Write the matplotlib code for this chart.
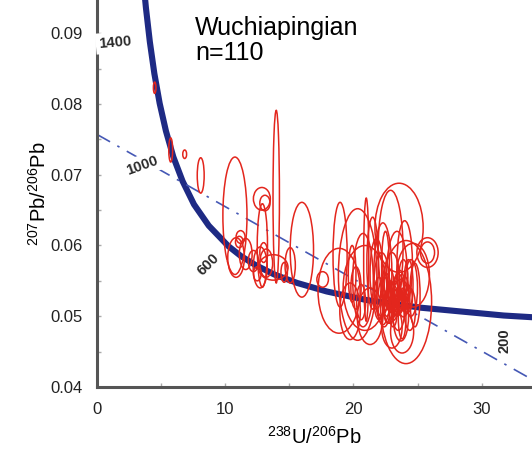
import matplotlib
matplotlib.use("Agg")
import matplotlib.pyplot as plt
from matplotlib.patches import Ellipse

plt.rcParams['font.family'] = ['Liberation Sans', 'DejaVu Sans']
plt.rcParams['mathtext.fontset'] = 'custom'
plt.rcParams['mathtext.rm'] = 'Liberation Sans'
plt.rcParams['mathtext.it'] = 'Liberation Sans:italic'
plt.rcParams['mathtext.bf'] = 'Liberation Sans:bold'

# Concordia curve points (238U/206Pb, 207Pb/206Pb)
conc_x = [3.549, 3.817, 4.122, 4.475, 4.888, 5.375, 5.959, 6.674, 7.568, 8.718,
          10.252, 11.23, 12.40, 13.83, 15.62, 17.92, 20.99, 25.29, 31.73, 36.34]
conc_y = [0.0987, 0.0936, 0.0888, 0.0843, 0.0801, 0.0762, 0.0725, 0.0691, 0.0658, 0.0628,
          0.0599, 0.0585, 0.0572, 0.0559, 0.0547, 0.0535, 0.0523, 0.0512, 0.0501, 0.0496]

# age labels along concordia
age_text = ['1400', '1000', '600', '200']
age_x = [1.45, 3.51, 8.65, 31.8]
age_y = [0.0887, 0.0713, 0.0573, 0.0466]
age_rot = [5, 20, 45, 90]

# reference (dash-dot) line end points
disc_x = [0.0, 33.6]
disc_y = [0.0757, 0.0414]

# error ellipses: centre x, centre y, half-width, half-height
ell_x = [4.50, 5.75, 6.84, 8.09,
         10.76, 12.86, 13.1, 13.98, 15.98, 10.85, 11.2, 11.1, 12.73, 13.75,
         15.07, 12.2, 13.2, 11.6, 14.6, 12.5, 13.0, 12.9,
         17.6, 18.88, 18.96, 20.33, 20.9, 23.56, 22.9, 24.1, 25.78, 25.78,
         21.0, 20.75, 22.3, 19.74, 21.3, 24.65, 24.0, 23.0, 23.8,
         23.0, 23.4, 23.7, 22.8, 23.9, 23.2, 23.5, 22.6, 24.2, 23.1,
         23.6, 22.9, 24.0, 23.3, 23.8, 22.4, 24.4, 23.0, 23.7, 22.2,
         24.5, 22.0, 21.8, 23.4, 23.9, 22.7, 20.2, 19.9, 20.6,
         23.3, 23.6, 23.9, 23.1, 24.1, 22.9, 23.5, 24.3, 22.5, 21.5, 24.8, 23.8]
ell_y = [0.0823, 0.0735, 0.0729, 0.0699,
         0.0642, 0.0666, 0.0660, 0.0669, 0.0594, 0.0583, 0.0612, 0.0605, 0.0569, 0.0569,
         0.0572, 0.0578, 0.0575, 0.0588, 0.0562, 0.0560, 0.0590, 0.0600,
         0.0552, 0.0536, 0.0587, 0.0559, 0.0540, 0.0625, 0.0595, 0.0520, 0.0590, 0.0590,
         0.0580, 0.0551, 0.0560, 0.0507, 0.0500, 0.0558, 0.0575, 0.0485, 0.0478,
         0.0525, 0.0520, 0.0530, 0.0515, 0.0515, 0.0535, 0.0510, 0.0530, 0.0525, 0.0505,
         0.0540, 0.0545, 0.0538, 0.0528, 0.0522, 0.0520, 0.0510, 0.0550, 0.0500, 0.0545,
         0.0540, 0.0525, 0.0560, 0.0560, 0.0555, 0.0505, 0.0540, 0.0560, 0.0520,
         0.0518, 0.0525, 0.0530, 0.0512, 0.0518, 0.0528, 0.0532, 0.0545, 0.0570, 0.0575,
         0.0530, 0.0498]
ell_rx = [0.10, 0.15, 0.15, 0.27,
          0.94, 0.66, 0.40, 0.25, 0.91, 0.65, 0.35, 0.30, 0.55, 1.15,
          0.40, 0.40, 0.50, 0.50, 0.25, 0.30, 0.30, 0.40,
          0.45, 1.64, 0.55, 1.50, 1.70, 1.88, 0.97, 2.00, 0.83, 0.55,
          0.20, 0.80, 0.70, 0.80, 1.00, 1.28, 0.60, 0.80, 0.90,
          0.50, 0.40, 0.60, 0.45, 0.35, 0.30, 0.50, 0.35, 0.40, 0.30,
          0.40, 0.25, 0.30, 0.20, 0.25, 0.50, 0.45, 0.60, 0.60, 0.60,
          0.50, 0.40, 0.50, 0.80, 0.35, 0.30, 0.40, 0.30, 0.35,
          0.25, 0.30, 0.20, 0.35, 0.25, 0.30, 0.45, 0.35, 0.30, 0.45, 0.40, 0.30]
ell_ry = [0.0008, 0.0017, 0.0006, 0.0025,
          0.0083, 0.0016, 0.0011, 0.0122, 0.0067, 0.0028, 0.0009, 0.0008, 0.0029, 0.0018,
          0.0025, 0.0015, 0.0020, 0.0022, 0.0014, 0.0010, 0.0014, 0.0059,
          0.0011, 0.0060, 0.0074, 0.0093, 0.0060, 0.0063, 0.0083, 0.0087, 0.0021, 0.0015,
          0.0087, 0.0066, 0.0072, 0.0040, 0.0040, 0.0045, 0.0060, 0.0030, 0.0030,
          0.0020, 0.0018, 0.0022, 0.0025, 0.0016, 0.0015, 0.0030, 0.0030, 0.0020, 0.0020,
          0.0025, 0.0020, 0.0018, 0.0010, 0.0012, 0.0035, 0.0030, 0.0040, 0.0035, 0.0045,
          0.0040, 0.0030, 0.0050, 0.0060, 0.0025, 0.0015, 0.0030, 0.0040, 0.0025,
          0.0012, 0.0015, 0.0010, 0.0018, 0.0014, 0.0022, 0.0028, 0.0035, 0.0050, 0.0065,
          0.0045, 0.0030]

x_ticks = [0, 10, 20, 30]
y_ticks = [0.04, 0.05, 0.06, 0.07, 0.08, 0.09]

fig = plt.figure(figsize=(5.32, 4.55), dpi=100)
ax = fig.add_axes([0.1823, 0.1495, 0.8177, 0.8505])

# ellipses
for x, y, rx, ry in zip(ell_x, ell_y, ell_rx, ell_ry):
    ax.add_patch(Ellipse((x, y), 2 * rx, 2 * ry, facecolor='none',
                         edgecolor='#e3261d', lw=1.1, zorder=3))

# concordia + reference line
ax.plot(conc_x, conc_y, color='#1e2a84', lw=4.4, solid_capstyle='butt', zorder=2)
ax.plot(disc_x, disc_y, color='#4558b5', lw=1.2, dashes=(9, 5, 1.5, 5), zorder=2.2)

for t, x, y, r in zip(age_text, age_x, age_y, age_rot):
    ax.text(x, y, t, rotation=r, ha='center', va='center', fontsize=10.5,
            fontweight='bold', color='#2a2a2a', zorder=6, clip_on=False,
            bbox=dict(facecolor='white', edgecolor='none', pad=2.5))

ax.text(7.66, 0.0925, 'Wuchiapingian\nn=110', ha='left', va='top',
        fontsize=18, color='black', linespacing=1.05)

ax.set_xlim(0, 33.93)
ax.set_ylim(0.04, 0.0947)
ax.set_xticks(x_ticks)
ax.set_xticklabels([str(v) for v in x_ticks])
ax.set_yticks(y_ticks)
ax.set_yticklabels(['%.2f' % v for v in y_ticks])
ax.set_xticks([5, 15, 25], minor=True)
ax.set_yticks([0.045, 0.055, 0.065, 0.075, 0.085], minor=True)
ax.tick_params(which='both', direction='in', length=3, width=1, color='#aaaaaa',
               labelsize=12, labelcolor='#222222')
ax.tick_params(axis='x', pad=11)
ax.tick_params(axis='y', pad=10)

for s in ['top', 'right']:
    ax.spines[s].set_visible(False)
for s in ['left', 'bottom']:
    ax.spines[s].set_linewidth(2.2)
    ax.spines[s].set_color('#555555')

ax.set_xlabel(r'$^{238}$U/$^{206}$Pb', fontsize=14.5, labelpad=6)
ax.set_ylabel(r'$^{207}$Pb/$^{206}$Pb', fontsize=14.5, labelpad=1)

fig.savefig('out.png', dpi=100)
